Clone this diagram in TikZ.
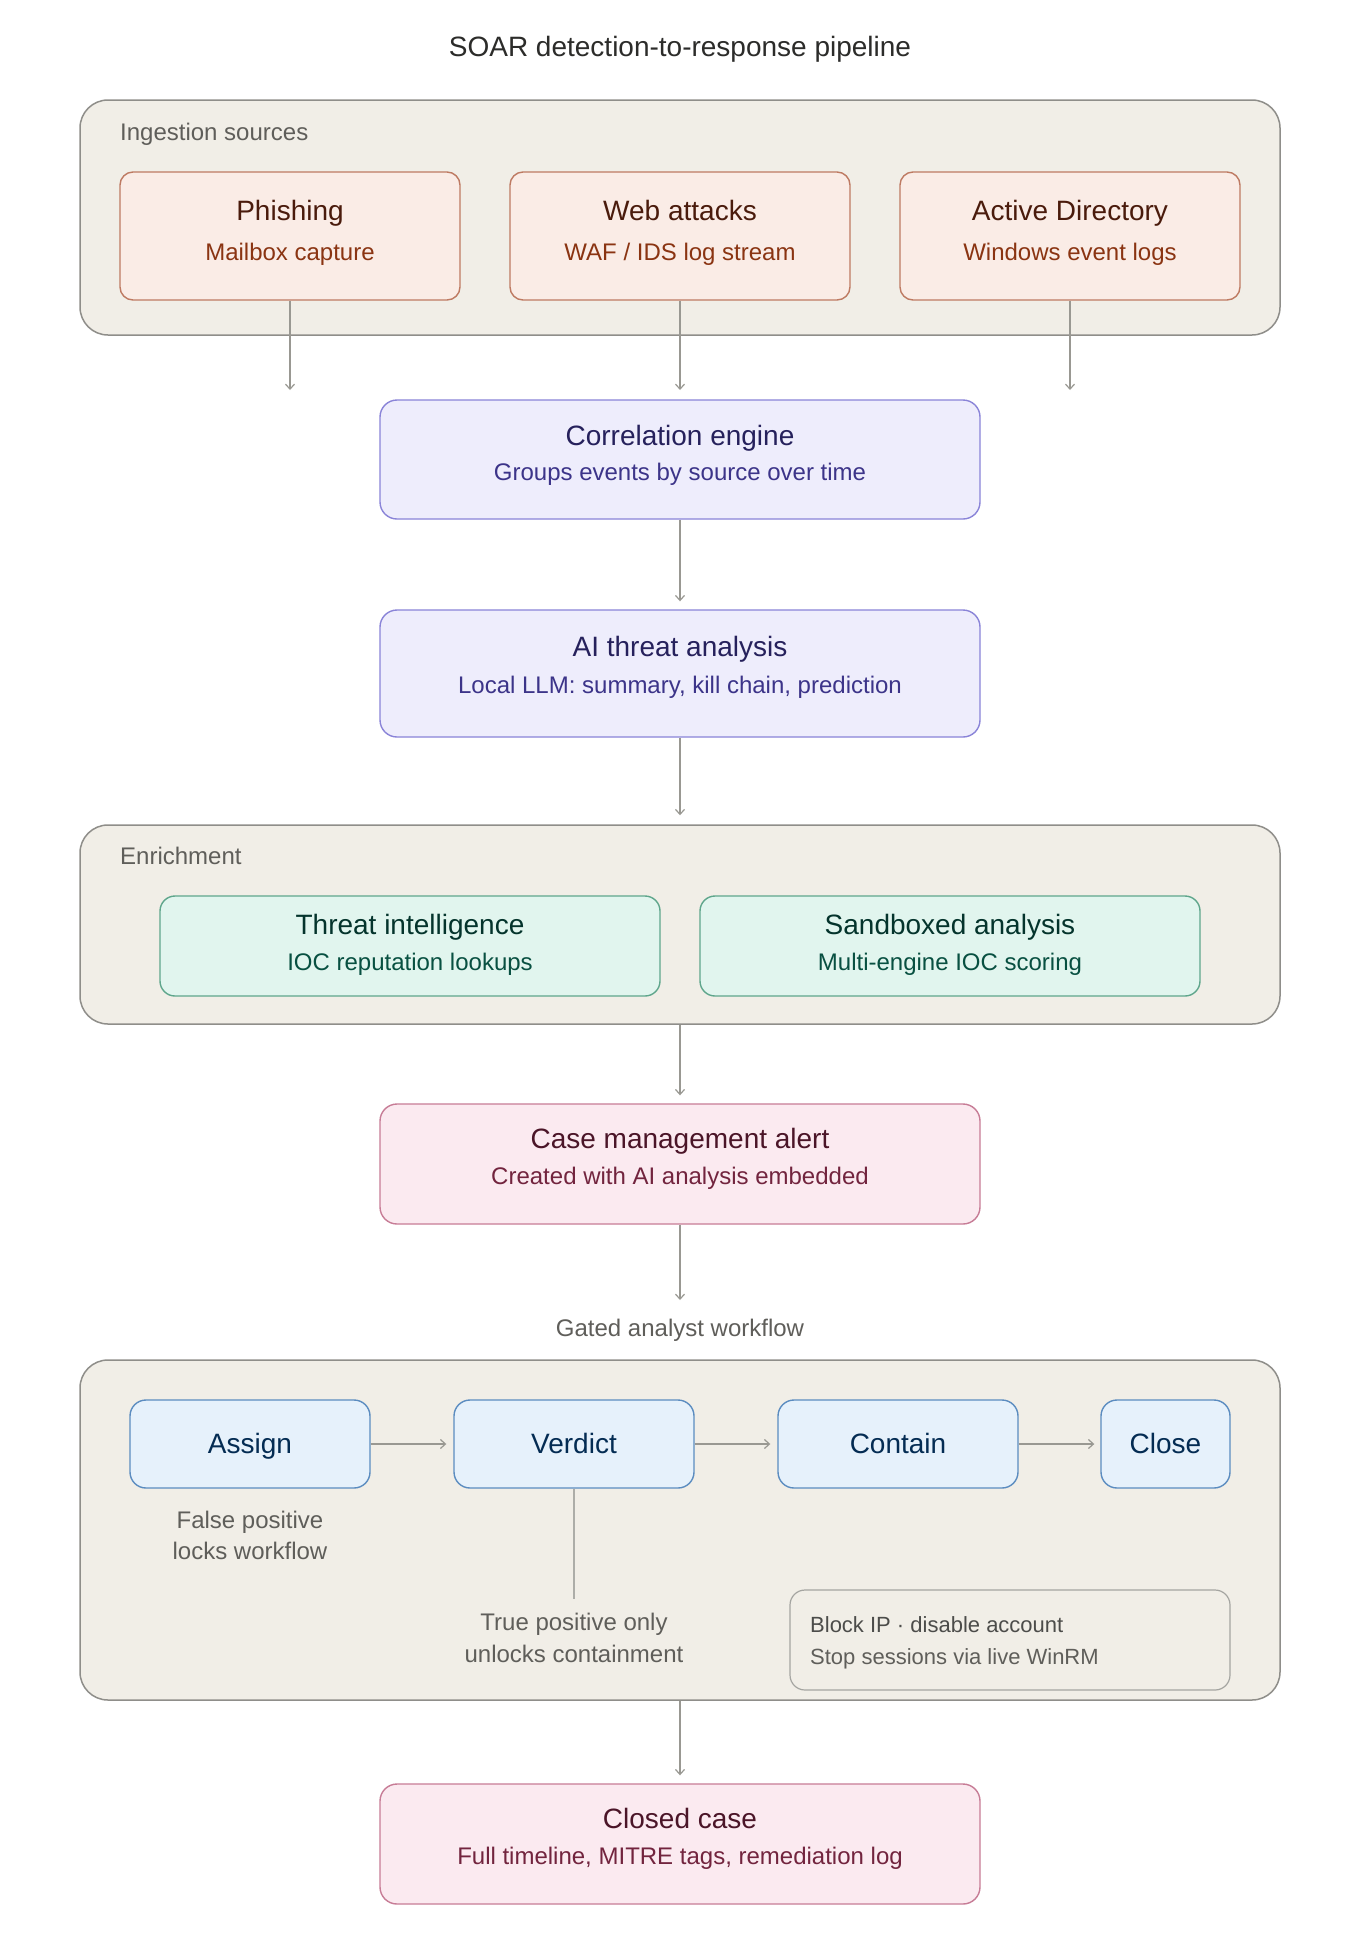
\documentclass[tikz,border=0pt]{standalone}
\usepackage{fontspec}
\setmainfont{Liberation Sans}
\usetikzlibrary{arrows.meta,calc}
\definecolor{contfill}{HTML}{F1EEE7}
\definecolor{contdraw}{HTML}{8F8E8A}
\definecolor{graytext}{HTML}{5F5E5A}
\definecolor{darktext}{HTML}{2C2C2A}
\definecolor{srcfill}{HTML}{FAECE6}
\definecolor{srcdraw}{HTML}{BE7A62}
\definecolor{srct}{HTML}{4A1B0C}
\definecolor{srcs}{HTML}{8A3412}
\definecolor{purfill}{HTML}{EEEDFC}
\definecolor{purdraw}{HTML}{8A84D8}
\definecolor{purt}{HTML}{26215C}
\definecolor{purs}{HTML}{3C3489}
\definecolor{grnfill}{HTML}{E1F5EE}
\definecolor{grndraw}{HTML}{5FA68C}
\definecolor{grnt}{HTML}{04342C}
\definecolor{grns}{HTML}{085041}
\definecolor{pnkfill}{HTML}{FBEAF0}
\definecolor{pnkdraw}{HTML}{C77C96}
\definecolor{pnkt}{HTML}{4B1528}
\definecolor{pnks}{HTML}{72243E}
\definecolor{blufill}{HTML}{E6F1FB}
\definecolor{bludraw}{HTML}{5B8CC0}
\definecolor{blut}{HTML}{042C53}
\definecolor{arrowc}{HTML}{999892}
\tikzset{
  container/.style={draw=contdraw, fill=contfill, line width=1.5pt, rounded corners=28pt},
  srcbox/.style={draw=srcdraw, fill=srcfill, line width=1.4pt, rounded corners=13pt},
  purbox/.style={draw=purdraw, fill=purfill, line width=1.4pt, rounded corners=17pt},
  grnbox/.style={draw=grndraw, fill=grnfill, line width=1.4pt, rounded corners=15pt},
  pnkbox/.style={draw=pnkdraw, fill=pnkfill, line width=1.4pt, rounded corners=17pt},
  blubox/.style={draw=bludraw, fill=blufill, line width=1.4pt, rounded corners=16pt},
  notebox/.style={draw=contdraw!80, fill=contfill, line width=1.2pt, rounded corners=15pt},
  ttl/.style={inner sep=0pt, anchor=base, font=\fontsize{28}{34}\selectfont},
  sub/.style={inner sep=0pt, anchor=base, font=\fontsize{24}{29}\selectfont},
  lbl/.style={inner sep=0pt, anchor=base, text=graytext, font=\fontsize{24}{29}\selectfont},
  lblw/.style={lbl, anchor=base west},
  note/.style={inner sep=0pt, anchor=base west, font=\fontsize{22}{27}\selectfont},
  flow/.style={draw=arrowc, line width=1.3pt, -{Straight Barb[length=5pt,width=9pt,line width=1.2pt]}},
  plainline/.style={draw=arrowc!80, line width=1.3pt},
}
\begin{document}
\begin{tikzpicture}[x=1pt,y=-1pt]
\useasboundingbox[fill=white] (0,0) rectangle (1360,1960);

% title
\node[ttl, text=darktext] (title) at (680,56) {SOAR detection-to-response pipeline};

% ingestion container
\node[container, minimum width=1200pt, minimum height=235pt, inner sep=0pt] (ing) at (680,217.5) {};
\node[lblw] (inglbl) at (120,140) {Ingestion sources};

\node[srcbox, minimum width=340pt, minimum height=128pt, inner sep=0pt] (phish) at (290,236) {};
\node[ttl, text=srct] (phisht) at (290,220) {Phishing};
\node[sub, text=srcs] (phishs) at (290,260) {Mailbox capture};

\node[srcbox, minimum width=340pt, minimum height=128pt, inner sep=0pt] (web) at (680,236) {};
\node[ttl, text=srct] (webt) at (680,220) {Web attacks};
\node[sub, text=srcs] (webs) at (680,260) {WAF / IDS log stream};

\node[srcbox, minimum width=340pt, minimum height=128pt, inner sep=0pt] (ad) at (1070,236) {};
\node[ttl, text=srct] (adt) at (1070,220) {Active Directory};
\node[sub, text=srcs] (ads) at (1070,260) {Windows event logs};

\coordinate (e1) at (290,390);
\coordinate (e2) at (680,390);
\coordinate (e3) at (1070,390);
\draw[flow] (phish.south) -- (e1);
\draw[flow] (web.south) -- (e2);
\draw[flow] (ad.south) -- (e3);

% correlation
\node[purbox, minimum width=600pt, minimum height=119pt, inner sep=0pt] (corr) at (680,459.5) {};
\node[ttl, text=purt] (corrt) at (680,445) {Correlation engine};
\node[sub, text=purs] (corrs) at (680,480) {Groups events by source over time};

% AI
\node[purbox, minimum width=600pt, minimum height=127pt, inner sep=0pt] (ai) at (680,673.5) {};
\node[ttl, text=purt] (ait) at (680,656) {AI threat analysis};
\node[sub, text=purs] (ais) at (680,693) {Local LLM: summary, kill chain, prediction};

\draw[flow, shorten >=8pt] (corr.south) -- (ai.north);

% enrichment
\node[container, minimum width=1200pt, minimum height=199pt, inner sep=0pt] (enr) at (680,924.5) {};
\node[lblw] (enrlbl) at (120,864) {Enrichment};
\draw[flow, shorten >=9pt] (ai.south) -- (enr.north);

\node[grnbox, minimum width=500pt, minimum height=100pt, inner sep=0pt] (ti) at (410,946) {};
\node[ttl, text=grnt] (tit) at (410,934) {Threat intelligence};
\node[sub, text=grns] (tis) at (410,970) {IOC reputation lookups};

\node[grnbox, minimum width=500pt, minimum height=100pt, inner sep=0pt] (sb) at (950,946) {};
\node[ttl, text=grnt] (sbt) at (950,934) {Sandboxed analysis};
\node[sub, text=grns] (sbs) at (950,970) {Multi-engine IOC scoring};

% case alert
\node[pnkbox, minimum width=600pt, minimum height=120pt, inner sep=0pt] (case) at (680,1164) {};
\node[ttl, text=pnkt] (caset) at (680,1148) {Case management alert};
\node[sub, text=pnks] (cases) at (680,1184) {Created with AI analysis embedded};
\draw[flow, shorten >=8pt] (enr.south) -- (case.north);

\coordinate (gate) at (680,1300);
\draw[flow] (case.south) -- (gate);
\node[lbl] (gatelbl) at (680,1336) {Gated analyst workflow};

% workflow container
\node[container, minimum width=1200pt, minimum height=340pt, inner sep=0pt] (wf) at (680,1530) {};

\node[blubox, minimum width=240pt, minimum height=88pt, inner sep=0pt] (assign) at (250,1444) {};
\node[ttl, text=blut] (assignt) at (250,1453) {Assign};
\node[blubox, minimum width=240pt, minimum height=88pt, inner sep=0pt] (verdict) at (574,1444) {};
\node[ttl, text=blut] (verdictt) at (574,1453) {Verdict};
\node[blubox, minimum width=240pt, minimum height=88pt, inner sep=0pt] (contain) at (898,1444) {};
\node[ttl, text=blut] (containt) at (898,1453) {Contain};
\node[blubox, minimum width=129pt, minimum height=88pt, inner sep=0pt] (close) at (1165.5,1444) {};
\node[ttl, text=blut] (closet) at (1165.5,1453) {Close};

\draw[flow, shorten >=7pt] (assign.east) -- (verdict.west);
\draw[flow, shorten >=7pt] (verdict.east) -- (contain.west);
\draw[flow, shorten >=6pt] (contain.east) -- (close.west);

\node[lbl] (fp1) at (250,1528) {False positive};
\node[lbl] (fp2) at (250,1559) {locks workflow};

\coordinate (vend) at (574,1599);
\draw[plainline] (verdict.south) -- (vend);
\node[lbl] (tp1) at (574,1630) {True positive only};
\node[lbl] (tp2) at (574,1662) {unlocks containment};

\node[notebox, minimum width=440pt, minimum height=100pt, inner sep=0pt] (note) at (1010,1640) {};
\node[note, text=darktext!85] (note1) at (810,1632) {Block IP · disable account};
\node[note, text=graytext] (note2) at (810,1664) {Stop sessions via live WinRM};

% closed case
\node[pnkbox, minimum width=600pt, minimum height=120pt, inner sep=0pt] (closed) at (680,1844) {};
\node[ttl, text=pnkt] (closedt) at (680,1828) {Closed case};
\node[sub, text=pnks] (closeds) at (680,1864) {Full timeline, MITRE tags, remediation log};
\draw[flow, shorten >=8pt] (wf.south) -- (closed.north);
\end{tikzpicture}
\end{document}
